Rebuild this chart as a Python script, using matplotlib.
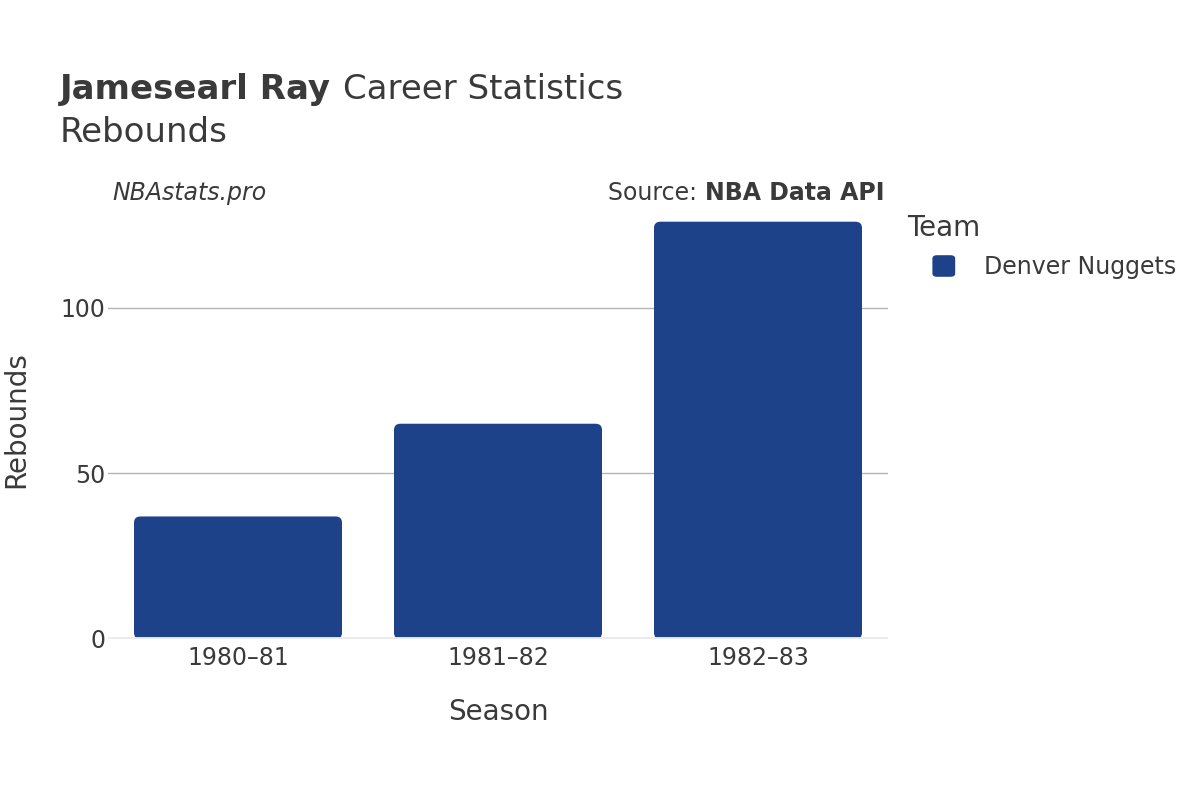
import matplotlib
matplotlib.use("Agg")
import matplotlib.pyplot as plt
from matplotlib.patches import FancyBboxPatch
from matplotlib.transforms import offset_copy

seasons=["1980–81","1981–82","1982–83"]
rebounds=[37,65,126]
team="Denver Nuggets"
bar_color="#1d4289"
txt="#3a3a3a"

plt.rcParams['font.family']=['DejaVu Sans']
fig=plt.figure(figsize=(12,8),dpi=100)
ax=fig.add_axes([0.09,0.20125,0.65,0.54875])

bars=ax.bar(range(len(seasons)),rebounds,width=0.8,color=bar_color)
# swap the plain rectangles for rounded ones
for b in bars:
    b.set_visible(False)
    p=FancyBboxPatch((b.get_x(),0),b.get_width(),b.get_height(),
                     boxstyle="round,pad=0,rounding_size=0.025",mutation_aspect=75,
                     fc=bar_color,ec="none",zorder=3)
    ax.add_patch(p)

ax.set_xlim(-0.5,len(seasons)-0.5)
ax.set_ylim(0,max(rebounds)*1.052)
ax.set_yticks([0,50,100])
ax.set_xticks(range(len(seasons)))
ax.set_xticklabels(seasons)
ax.tick_params(axis='both',length=0,labelsize=17,colors=txt)
ax.tick_params(axis='x',pad=5)
ax.tick_params(axis='y',pad=2)
for s in ax.spines.values():
    s.set_visible(False)
ax.grid(axis='y',color='#b4b4b4',lw=1)
ax.set_axisbelow(True)
ax.axhline(0,color='#ebebeb',lw=3.5,zorder=4)
ax.set_xlabel("Season",fontsize=20,color=txt,va='center')
ax.set_ylabel("Rebounds",fontsize=20,color=txt,va='center')
ax.xaxis.set_label_coords(0.5,-0.166)
ax.yaxis.set_label_coords(-0.118,0.5)

r=fig.canvas.get_renderer()
t1=fig.text(0.05,0.888,"Jamesearl Ray ",fontsize=24.5,fontweight='bold',color=txt,va='center')
w=t1.get_window_extent(r).width
fig.text(0.05,0.888,"Career Statistics",fontsize=24.5,color=txt,va='center',
         transform=offset_copy(fig.transFigure,fig=fig,x=w,y=0,units='dots'))
fig.text(0.05,0.834,"Rebounds",fontsize=24.5,color=txt,va='center')
fig.text(0.094,0.759,"NBAstats.pro",fontsize=17,style='italic',color=txt,va='center')
t2=fig.text(0.737,0.759,"NBA Data API",fontsize=17,fontweight='bold',color=txt,va='center',ha='right')
w2=t2.get_window_extent(r).width
fig.text(0.737,0.759,"Source: ",fontsize=17,color=txt,va='center',ha='right',
         transform=offset_copy(fig.transFigure,fig=fig,x=-w2,y=0,units='dots'))

fig.text(0.756,0.715,"Team",fontsize=20,color=txt,va='center')
fig.patches.append(FancyBboxPatch((0.777,0.654),0.019,0.027,boxstyle="round,pad=0,rounding_size=0.004",
                                  transform=fig.transFigure,fc=bar_color,ec='none',figure=fig))
fig.text(0.82,0.666,team,fontsize=17,color=txt,va='center')

fig.savefig("out.png",dpi=100)
